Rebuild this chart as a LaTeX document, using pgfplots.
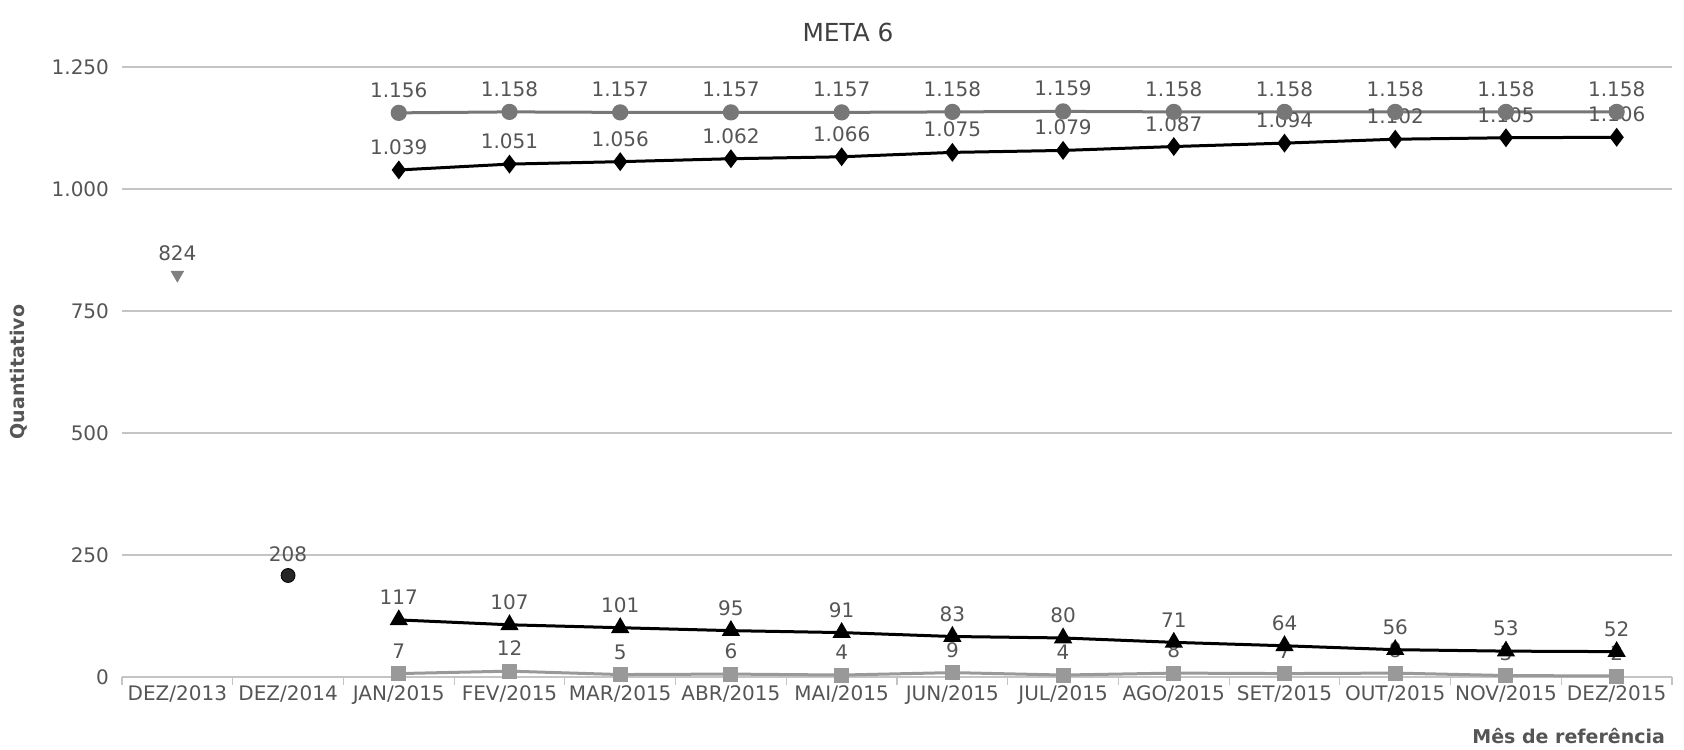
\documentclass[border=0pt]{standalone}
\usepackage{fontspec}
\setmainfont{DejaVu Sans}
\usepackage{pgfplots}
\pgfplotsset{compat=1.18}
\definecolor{txt}{HTML}{555555}
\definecolor{gridc}{HTML}{C4C4C4}
\definecolor{gcirc}{HTML}{777777}
\definecolor{gsq}{HTML}{999999}
\definecolor{gtri}{HTML}{808080}
\begin{document}
\begin{tikzpicture}
\useasboundingbox (0,0) rectangle (842pt,374.5pt);
\begin{axis}[
  at={(61pt,36pt)}, anchor=south west,
  scale only axis, width=775pt, height=305pt,
  xmin=-0.5, xmax=13.5, ymin=0, ymax=1250,
  clip=false,
  axis x line*=bottom, axis y line*=left,
  y axis line style={draw=none},
  x axis line style={gridc, line width=0.8pt, -},
  tick align=outside,
  xtick={0,...,13},
  xticklabels={DEZ/2013,DEZ/2014,JAN/2015,FEV/2015,MAR/2015,ABR/2015,MAI/2015,JUN/2015,JUL/2015,AGO/2015,SET/2015,OUT/2015,NOV/2015,DEZ/2015},
  major x tick style={draw=none},
  minor xtick={-0.5,0.5,...,13.5},
  minor x tick style={gridc, line width=0.6pt},
  minor tick length=4pt,
  ytick={0,250,...,1250},
  ymajorgrids, grid style={gridc, line width=0.8pt},
  major y tick style={draw=none},
  major tick length=0pt,
  tick label style={font=\fontsize{10}{12}\selectfont, text=txt},
  xticklabel style={yshift=-1pt},
  yticklabel style={xshift=-3pt},
  /pgf/number format/1000 sep={.},
  /pgf/number format/assume math mode=true,
  ylabel={Quantitativo},
  ylabel style={font=\bfseries\fontsize{9.5}{11}\selectfont, text=txt, at={(axis description cs:0,0.5)}, anchor=center, yshift=51.5pt},
  xlabel={Mês de referência},
  xlabel style={font=\bfseries\fontsize{9.5}{11}\selectfont, text=txt, at={(axis description cs:1,0)}, anchor=east, yshift=-29.5pt},
  nodes near coords,
  nodes near coords style={font=\fontsize{10}{12}\selectfont, text=txt, anchor=south, yshift=3.5pt},
]
% gray squares
\addplot[color=gsq, line width=1.5pt, mark=square*, mark size=3pt, mark options={fill=gsq, draw=gsq}] coordinates {
(2,7) (3,12) (4,5) (5,6) (6,4) (7,9) (8,4) (9,8) (10,7) (11,8) (12,3) (13,2)};
% black triangles
\addplot[color=black, line width=1.5pt, mark=triangle*, mark size=3.8pt, mark options={fill=black}] coordinates {
(2,117) (3,107) (4,101) (5,95) (6,91) (7,83) (8,80) (9,71) (10,64) (11,56) (12,53) (13,52)};
% black diamonds
\addplot[color=black, line width=1.5pt, mark=diamond*, mark size=3.5pt, mark options={fill=black}] coordinates {
(2,1039) (3,1051) (4,1056) (5,1062) (6,1066) (7,1075) (8,1079) (9,1087) (10,1094) (11,1102) (12,1105) (13,1106)};
% gray circles
\addplot[color=gcirc, line width=1.5pt, mark=*, mark size=3.3pt, mark options={fill=gcirc, draw=gcirc}] coordinates {
(2,1156) (3,1158) (4,1157) (5,1157) (6,1157) (7,1158) (8,1159) (9,1158) (10,1158) (11,1158) (12,1158) (13,1158)};
% single points
\addplot[only marks, color=gtri, mark=triangle*, mark size=3.5pt, mark options={rotate=180, fill=gtri, draw=gtri}] coordinates {(0,824)};
\addplot[only marks, color=black, mark=*, mark size=3.5pt, mark options={fill=black!85}] coordinates {(1,208)};
\end{axis}
\node[font=\fontsize{12.4}{14}\selectfont, text=black!75] at (424pt,358.5pt) {META 6};
\end{tikzpicture}
\end{document}
